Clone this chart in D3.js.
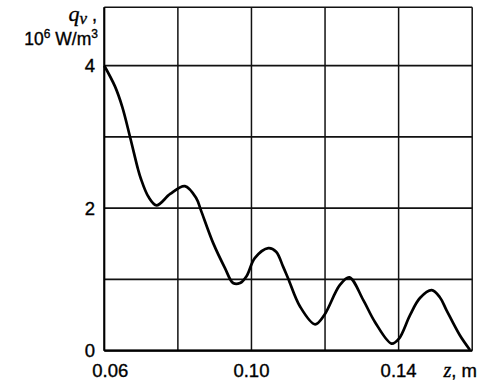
<!DOCTYPE html>
<html><head><meta charset="utf-8">
<script src="https://cdn.jsdelivr.net/npm/d3@7"></script>
<style>body{margin:0;background:#fff}svg{display:block}</style>
</head><body>
<script>
const zValues=[0.0600,0.0629,0.0649,0.0670,0.0692,0.0699,0.0720,0.0742,0.0779,0.0819,0.0850,0.0862,0.0896,0.0928,0.0950,0.0969,0.0987,0.1009,0.1046,0.1067,0.1086,0.1100,0.1132,0.1173,0.1198,0.1240,0.1266,0.1304,0.1336,0.1381,0.1401,0.1431,0.1458,0.1490,0.1512,0.1530,0.1566,0.1594];
const qValues=[4.00,3.71,3.42,3.00,2.54,2.42,2.16,2.04,2.20,2.31,2.14,1.98,1.51,1.16,0.95,0.95,1.05,1.30,1.44,1.39,1.18,1.01,0.62,0.37,0.50,0.92,1.03,0.71,0.40,0.10,0.17,0.50,0.74,0.85,0.75,0.57,0.22,0.01];
const xGrid=[0.06,0.08,0.10,0.12,0.14,0.16];
const yGrid=[0,1,2,3,4];
const xTickLabels=[0.06,0.10,0.14];
const yTickLabels=[0,2,4];

const W=479,H=382;
const svg=d3.select("body").append("svg").attr("width",W).attr("height",H);
const x=d3.scaleLinear().domain([0.06,0.16]).range([104.3,472.2]);
const y=d3.scaleLinear().domain([0,4.82]).range([350.7,7.3]);
const g=svg.append("g");
g.selectAll(".vg").data(xGrid).join("line")
 .attr("x1",d=>x(d)).attr("x2",d=>x(d)).attr("y1",y(0)).attr("y2",y(4.82))
 .attr("stroke","#111").attr("stroke-width",1.5);
g.selectAll(".hg").data(yGrid).join("line")
 .attr("x1",x(0.06)).attr("x2",x(0.16)).attr("y1",d=>y(d)).attr("y2",d=>y(d))
 .attr("stroke","#111").attr("stroke-width",1.7);
g.append("line").attr("x1",x(0.06)).attr("x2",x(0.16)).attr("y1",y(4.82)).attr("y2",y(4.82)).attr("stroke","#111").attr("stroke-width",1.5);
g.append("line").attr("x1",x(0.06)).attr("x2",x(0.06)).attr("y1",y(0)).attr("y2",y(4.82)).attr("stroke","#000").attr("stroke-width",2);
g.append("line").attr("x1",x(0.06)).attr("x2",x(0.16)).attr("y1",y(0)).attr("y2",y(0)).attr("stroke","#000").attr("stroke-width",2.2);
const pts=zValues.map((z,i)=>[z,qValues[i]]);
g.append("path").datum(pts)
 .attr("d",d3.line().x(d=>x(d[0])).y(d=>y(d[1])).curve(d3.curveCatmullRom.alpha(0.5)))
 .attr("fill","none").attr("stroke","#000").attr("stroke-width",2.7).attr("stroke-linejoin","round");
const font="'Liberation Sans',Arial,sans-serif";
function bold(sel){return sel.attr("stroke","#000").attr("stroke-width",0.35).attr("fill","#000");}
bold(g.selectAll(".xl").data(xTickLabels).join("text")
 .attr("x",d=>x(d)+(d===0.06?6:0)).attr("y",377).attr("text-anchor","middle")
 .attr("font-family",font).attr("font-size",18.5)
 .text(d=>d.toFixed(2)));
bold(g.selectAll(".yl").data(yTickLabels).join("text")
 .attr("x",95).attr("y",d=>y(d)+6.5).attr("text-anchor","end")
 .attr("font-family",font).attr("font-size",18.5)
 .text(d=>d));
const serif="'Liberation Serif','DejaVu Serif',serif";
const zt=bold(g.append("text").attr("x",477).attr("y",377).attr("text-anchor","end").attr("font-family",font).attr("font-size",18.5));
zt.append("tspan").attr("font-family",serif).attr("font-style","italic").attr("font-size",20).text("z");
zt.append("tspan").text(", m");
const qt=bold(g.append("text").attr("x",97).attr("y",21).attr("text-anchor","end").attr("font-size",22));
qt.append("tspan").attr("font-family",serif).attr("font-style","italic").text("q");
qt.append("tspan").attr("font-family",serif).attr("font-style","italic").attr("font-size",17).attr("dy",3).text("v");
qt.append("tspan").attr("font-family",font).attr("dy",-3).attr("font-size",18).text(" ,");
const ut=bold(g.append("text").attr("x",98).attr("y",45).attr("text-anchor","end").attr("font-family",font).attr("font-size",17.5));
ut.append("tspan").text("10");
ut.append("tspan").attr("font-size",12).attr("dy",-7).text("6");
ut.append("tspan").attr("dy",7).text(" W/m");
ut.append("tspan").attr("font-size",12).attr("dy",-7).text("3");
</script>
</body></html>
